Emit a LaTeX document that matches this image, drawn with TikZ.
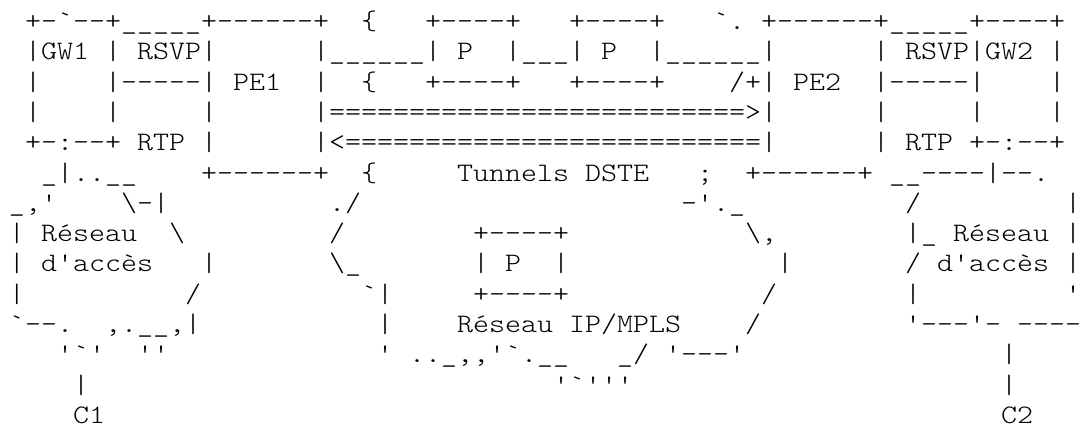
\documentclass[tikz,border=0pt]{standalone}
\usepackage{fontspec}
\newfontfamily\asciifont{lmmonolt10-regular}[Extension=.otf,FakeStretch=1.1429]
\tikzset{
  ascii/.style={anchor=base west, inner sep=0pt, outer sep=0pt, text=black,
    font=\asciifont\fontsize{26.67pt}{30pt}\selectfont}
}
\newcommand\seg[4]{\node[ascii] (#1) at ({9pt+16pt*#3},{-29.5pt-30.3pt*(#2-1)}) {#4};}
\begin{document}
\begin{tikzpicture}
\fill[white] (0,0) rectangle (1086pt,-428pt);
\useasboundingbox (0,0) rectangle (1086pt,-428pt);
% row 1
\seg{gwa}{1}{1}{+-`--+\_\_\_\_\_+------+}
\seg{br1}{1}{22}{\{}
\seg{pa}{1}{26}{+----+}
\seg{pb}{1}{35}{+----+}
\seg{tk}{1}{44}{`.}
\seg{gwb}{1}{47}{+------+\_\_\_\_\_+----+}
% row 2
\seg{gw1}{2}{1}{|GW1~|~RSVP|}
\seg{core}{2}{19}{|\_\_\_\_\_\_|~P~~|\_\_\_|~P~~|\_\_\_\_\_\_|}
\seg{gw2}{2}{54}{|~RSVP|GW2~|}
% row 3
\seg{pe1}{3}{1}{|~~~~|-----|~PE1~~|}
\seg{br3}{3}{22}{\{}
\seg{pc}{3}{26}{+----+}
\seg{pd}{3}{35}{+----+}
\seg{pe2}{3}{45}{/+|~PE2~~|-----|~~~~|}
% row 4
\seg{r4a}{4}{1}{|~~~~|~~~~~|~~~~~~|}
\seg{fwd}{4}{20}{==========================>}
\seg{r4b}{4}{47}{|~~~~~~|~~~~~|~~~~|}
% row 5
\seg{rtp1}{5}{1}{+-:--+~RTP~|~~~~~~|}
\seg{bwd}{5}{20}{<==========================}
\seg{rtp2}{5}{47}{|~~~~~~|~RTP~+-:--+}
% row 6
\seg{r6a}{6}{2}{\_|..\_\_}
\seg{pe1b}{6}{12}{+------+}
\seg{br6}{6}{22}{\{}
\seg{dste}{6}{28}{Tunnels~DSTE}
\seg{semi}{6}{43}{;}
\seg{pe2b}{6}{46}{+------+~\_\_----|--.}
% row 7
\seg{r7a}{7}{0}{\_,'~~~~\textbackslash-|}
\seg{r7b}{7}{20}{./}
\seg{r7c}{7}{42}{-'.\_}
\seg{r7d}{7}{56}{/}
\seg{r7e}{7}{66}{|}
% row 8
\seg{acc1}{8}{0}{|~Réseau~~\textbackslash}
\seg{r8b}{8}{20}{/}
\seg{pe}{8}{29}{+----+}
\seg{r8d}{8}{46}{\textbackslash,}
\seg{acc2}{8}{56}{|\_~Réseau~|}
% row 9
\seg{acc1b}{9}{0}{|~d'accès~~~|}
\seg{r9b}{9}{20}{\textbackslash\_}
\seg{pf}{9}{29}{|~P~~|}
\seg{r9d}{9}{48}{|}
\seg{acc2b}{9}{56}{/~d'accès~|}
% row 10
\seg{r10a}{10}{0}{|}
\seg{r10b}{10}{11}{/}
\seg{r10c}{10}{22}{`|}
\seg{pg}{10}{29}{+----+}
\seg{r10e}{10}{47}{/}
\seg{r10f}{10}{56}{|}
\seg{r10g}{10}{66}{'}
% row 11
\seg{r11a}{11}{0}{`--.~~,.\_\_,|}
\seg{r11b}{11}{23}{|}
\seg{mpls}{11}{28}{Réseau~IP/MPLS}
\seg{r11d}{11}{46}{/}
\seg{r11e}{11}{56}{'---'-~----}
% row 12
\seg{r12a}{12}{3}{'`'~~''}
\seg{r12b}{12}{23}{'~..\_,,'`.\_\_~~~\_/~'---'}
\seg{r12c}{12}{62}{|}
% row 13
\seg{c1l}{13}{4}{|}
\seg{r13b}{13}{34}{'`'''}
\seg{c2l}{13}{62}{|}
% row 14
\seg{c1}{14}{4}{C1}
\seg{c2}{14}{62}{C2}
\end{tikzpicture}
\end{document}
